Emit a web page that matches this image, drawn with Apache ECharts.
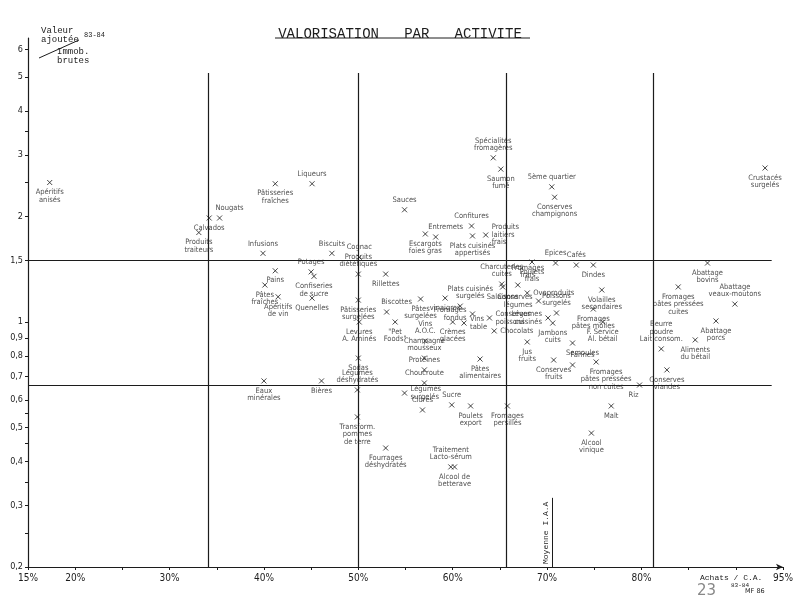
<!DOCTYPE html>
<html><head><meta charset="utf-8">
<script src="https://cdn.jsdelivr.net/npm/echarts@6/dist/echarts.min.js"></script>
<style>html,body{margin:0;background:#fff}#c{width:800px;height:600px}</style>
</head><body><div id="c"></div>
<script>
// ---- data (Achats / C.A. en %, Valeur ajoutée / Immob. brutes) ----
const activites = [
 'Apéritifs\nanisés','Calvados','Nougats','Produits\ntraiteurs','Pâtisseries\nfraîches','Liqueurs','Sauces',
 'Spécialités\nfromagères','Saumon\nfumé','5ème quartier','Conserves\nchampignons','Crustacés\nsurgelés',
 'Infusions','Biscuits','Cognac','Produits\ndiététiques','Potages','Confiseries\nde sucre','Pains',
 'Pâtes\nfraîches','Apéritifs\nde vin','Quenelles','Rillettes','Pâtisseries\nsurgelées','Levures\nA. Aminés',
 'Biscottes','"Pet\nFoods"','Pâtes\nsurgelées','vinaigres','Plats cuisinés\nsurgelés','Fromages\nfondus',
 'Vins\ntable','Crèmes\nglacées','Vins\nA.O.C.','Champagne\nmousseux','Protéines','Choucroute',
 'Légumes\nsurgelés','Cidres','Sodas','Légumes\ndéshydratés','Eaux\nminérales','Bières',
 'Transform.\npommes\nde terre','Fourrages\ndéshydratés','Sucre','Poulets\nexport','Fromages\npersillés',
 'Traitement\nLacto-sérum','Alcool de\nbetterave','Pâtes\nalimentaires','Conserves\npoissons','Chocolats',
 'Poulets\nfrais','Epices','Cafés','Dindes','Charcuteries\ncuites','Salaisons','Fromages\nfrais',
 'Ovoproduits','Conserves\nlégumes','Légumes\ncuisinés','Poissons\nsurgelés','Jambons\ncuits',
 'Volailles\nsecondaires','Fromages\npâtes molles','F. Service\nAl. bétail','Jus\nfruits','Semoules',
 'Farines','Conserves\nfruits','Fromages\npâtes pressées\nnon cuites','Riz','Malt','Alcool\nvinique',
 'Abattage\nbovins','Abattage\nveaux-moutons','Fromages\npâtes pressées\ncuites','Abattage\nporcs',
 'Aliments\ndu bétail','Beurre\npoudre\nLait consom.','Conserves\nviandes','Escargots\nfoies gras',
 'Entremets','Confitures','Plats cuisinés\nappertisés','Produits\nlaitiers\nfrais'
];
const achatsCA = [
 17.3,34.2,35.3,33.1,41.2,45.1,54.9,
 64.3,65.1,70.5,70.8,93.1,
 39.9,47.2,50.1,50.0,45.0,45.3,41.2,
 40.1,41.5,45.1,52.9,50.0,50.1,
 53.0,53.9,56.6,59.2,60.8,62.1,
 61.2,60.0,57.1,57.0,57.0,57.0,
 54.9,56.8,50.0,49.9,40.0,46.1,
 49.9,52.9,59.9,61.9,65.8,
 59.8,60.2,62.9,63.9,64.4,
 68.4,70.9,73.1,74.9,65.2,65.3,66.9,
 67.9,69.1,70.1,71.0,70.6,
 75.8,74.9,75.9,67.9,72.7,
 72.7,70.7,75.2,79.8,76.8,74.7,
 87.0,89.9,83.9,87.9,
 85.7,82.1,82.7,57.1,
 58.2,62.0,62.1,63.5
];
const valeurImmob = [
 2.50,1.98,1.98,1.80,2.48,2.48,2.09,
 2.94,2.73,2.43,2.27,2.75,
 1.57,1.57,1.53,1.37,1.39,1.35,1.40,
 1.275,1.18,1.17,1.37,1.155,1.00,
 1.068,1.00,1.163,1.17,1.11,1.054,
 0.993,1.00,0.883,0.789,0.73,0.67,
 0.627,0.561,0.789,0.64,0.679,0.679,
 0.536,0.437,0.58,0.576,0.576,
 0.386,0.386,0.784,1.027,0.943,
 1.483,1.473,1.454,1.454,1.283,1.259,1.275,
 1.21,1.148,1.027,1.061,0.993,
 1.234,1.089,1.00,0.877,0.871,
 0.754,0.779,0.769,0.661,0.576,0.482,
 1.473,1.125,1.259,1.007,
 0.889,0.838,0.73,1.783,
 1.748,1.879,1.76,1.771
];
const xTickLabels = [15,20,30,40,50,60,70,80,95];
const yTickLabels = [0.2,0.3,0.4,0.5,0.6,0.7,0.8,0.9,1,1.5,2,3,4,5,6];
const yTicks = [0.2,0.25,0.3,0.35,0.4,0.45,0.5,0.55,0.6,0.7,0.8,0.9,1,1.5,2,2.5,3,3.5,4,5,6];
const separationsX = [34.1,50.0,65.7,81.2];
const separationsY = [0.66,1.5];
const moyenneIAA = 70.6;

// ---- style (label placement per point) ----
const labelPlace = [
 'bottom','bottom','tr','bottom','bottom','top','top',
 'top','bottom','top','bottom','bottom',
 'top','top','top','top','top','bottom','bottom',
 'bottom','bottom','bottom','bottom','bottom','bottom',
 'tr','bottom','bottom','bottom','tr','left',
 'right','bottom','top','top','top','top',
 'right','top','bottom','top','bottom','bottom',
 'bottom','bottom','top','bottom','bottom',
 'top','bottom','bottom','right','right',
 'bottom','top','top','bottom','top','bottom','tr',
 'right','left','left','top','bottom',
 'bottom','bottom','bottom','bottom','br',
 'tr','bottom','br','bl','bottom','bottom',
 'bottom','top','bottom','bottom',
 'bottom','top','bottom','bottom',
 'tr','top','bottom','right'
];
const placeCfg = {
 top:{position:'top'}, bottom:{position:'bottom'}, left:{position:'left'}, right:{position:'right'},
 tr:{position:'top', offset:[10,0]}, br:{position:'bottom', offset:[10,0]}, bl:{position:'bottom', offset:[-6,0]}
};

const lg = v => Math.log10(v);
const ink = '#1c1c1c';
const hand = "'Liberation Sans Narrow','DejaVu Sans Condensed','Roboto',sans-serif";
const mono = "'Liberation Mono','DejaVu Sans Mono',monospace";
const yMin = lg(0.2), yMax = lg(6.46);

const points = activites.map((n,i)=>({
  name:n, value:[achatsCA[i], lg(valeurImmob[i])],
  label: placeCfg[labelPlace[i]]
}));

const sepLines = [];
separationsX.forEach(q=>sepLines.push([{coord:[q,yMin]},{coord:[q,lg(5.13)]}]));
separationsY.forEach(v=>sepLines.push([{coord:[15,lg(v)]},{coord:[93.8,lg(v)]}]));

const chart = echarts.init(document.getElementById('c'), null, {renderer:'canvas'});
chart.setOption({
  backgroundColor:'#ffffff',
  animation:false,
  title:{text:'VALORISATION   PAR   ACTIVITE', left:'center', top:22,
    textStyle:{fontFamily:mono, fontSize:14, fontWeight:'normal', color:ink}},
  grid:{left:28, right:17, top:38, bottom:33},
  xAxis:{type:'value', min:15, max:95, interval:5,
    axisLine:{show:true, onZero:false, lineStyle:{color:ink, width:1.2}, symbol:['none','arrow'], symbolSize:[5,7]},
    axisTick:{show:true, length:3, lineStyle:{color:ink}},
    axisLabel:{customValues:xTickLabels, formatter:v=>v+'%', color:ink, fontSize:10, fontFamily:hand, margin:6},
    splitLine:{show:false}},
  yAxis:{type:'value', min:yMin, max:yMax,
    axisLine:{show:true, onZero:false, lineStyle:{color:ink, width:1.2}},
    axisTick:{show:true, length:3, customValues:yTicks.map(lg), lineStyle:{color:ink}},
    axisLabel:{customValues:yTickLabels.map(lg), color:ink, fontSize:9, fontFamily:hand, margin:5,
      formatter:v=>{const t=yTickLabels.find(t=>Math.abs(lg(t)-v)<1e-6); return t===undefined?'':String(t).replace('.',',');}},
    splitLine:{show:false}},
  series:[
    {type:'scatter', data:points, symbol:'path://M0,0L10,10M10,0L0,10', symbolSize:5,
      itemStyle:{color:'none', borderColor:ink, borderWidth:1},
      label:{show:true, formatter:'{b}', fontSize:7.5, lineHeight:7.5, color:ink, fontFamily:hand, distance:1},
      markLine:{silent:true, symbol:['none','none'], label:{show:false},
        lineStyle:{color:ink, width:1.2, type:'solid'}, data:sepLines}},
    {type:'scatter', data:[],
      markLine:{silent:true, symbol:['none','none'],
        lineStyle:{color:ink, width:1, type:'solid'},
        label:{show:true, position:'insideStartTop', formatter:'Moyenne I.A.A', fontFamily:mono, fontSize:8, color:ink, distance:3},
        data:[[{coord:[moyenneIAA,yMin]},{coord:[moyenneIAA,lg(0.315)]}]]}}
  ],
  graphic:[
    {type:'line', shape:{x1:275,y1:38,x2:530,y2:38}, style:{stroke:ink, lineWidth:1}},
    {type:'text', left:41, top:26, style:{text:'Valeur\najoutée', font:"9px 'Liberation Mono',monospace", fill:ink, lineHeight:9}},
    {type:'line', shape:{x1:39,y1:58,x2:79,y2:40}, style:{stroke:ink, lineWidth:1}},
    {type:'text', left:84, top:32, style:{text:'83-84', font:"7px 'Liberation Mono',monospace", fill:ink}},
    {type:'text', left:57, top:47, style:{text:'Immob.\nbrutes', font:"9px 'Liberation Mono',monospace", fill:ink, lineHeight:9}},
    {type:'text', left:700, top:574, style:{text:'Achats / C.A.', font:"8px 'Liberation Mono',monospace", fill:ink}},
    {type:'text', left:731, top:582, style:{text:'83-84', font:"6px 'Liberation Mono',monospace", fill:ink}},
    {type:'text', left:697, top:584, style:{text:'23', font:"15px 'DejaVu Sans'", fill:'#888'}},
    {type:'text', left:745, top:588, style:{text:'MF 86', font:"6.5px 'DejaVu Sans'", fill:ink}}
  ]
});
</script></body></html>
